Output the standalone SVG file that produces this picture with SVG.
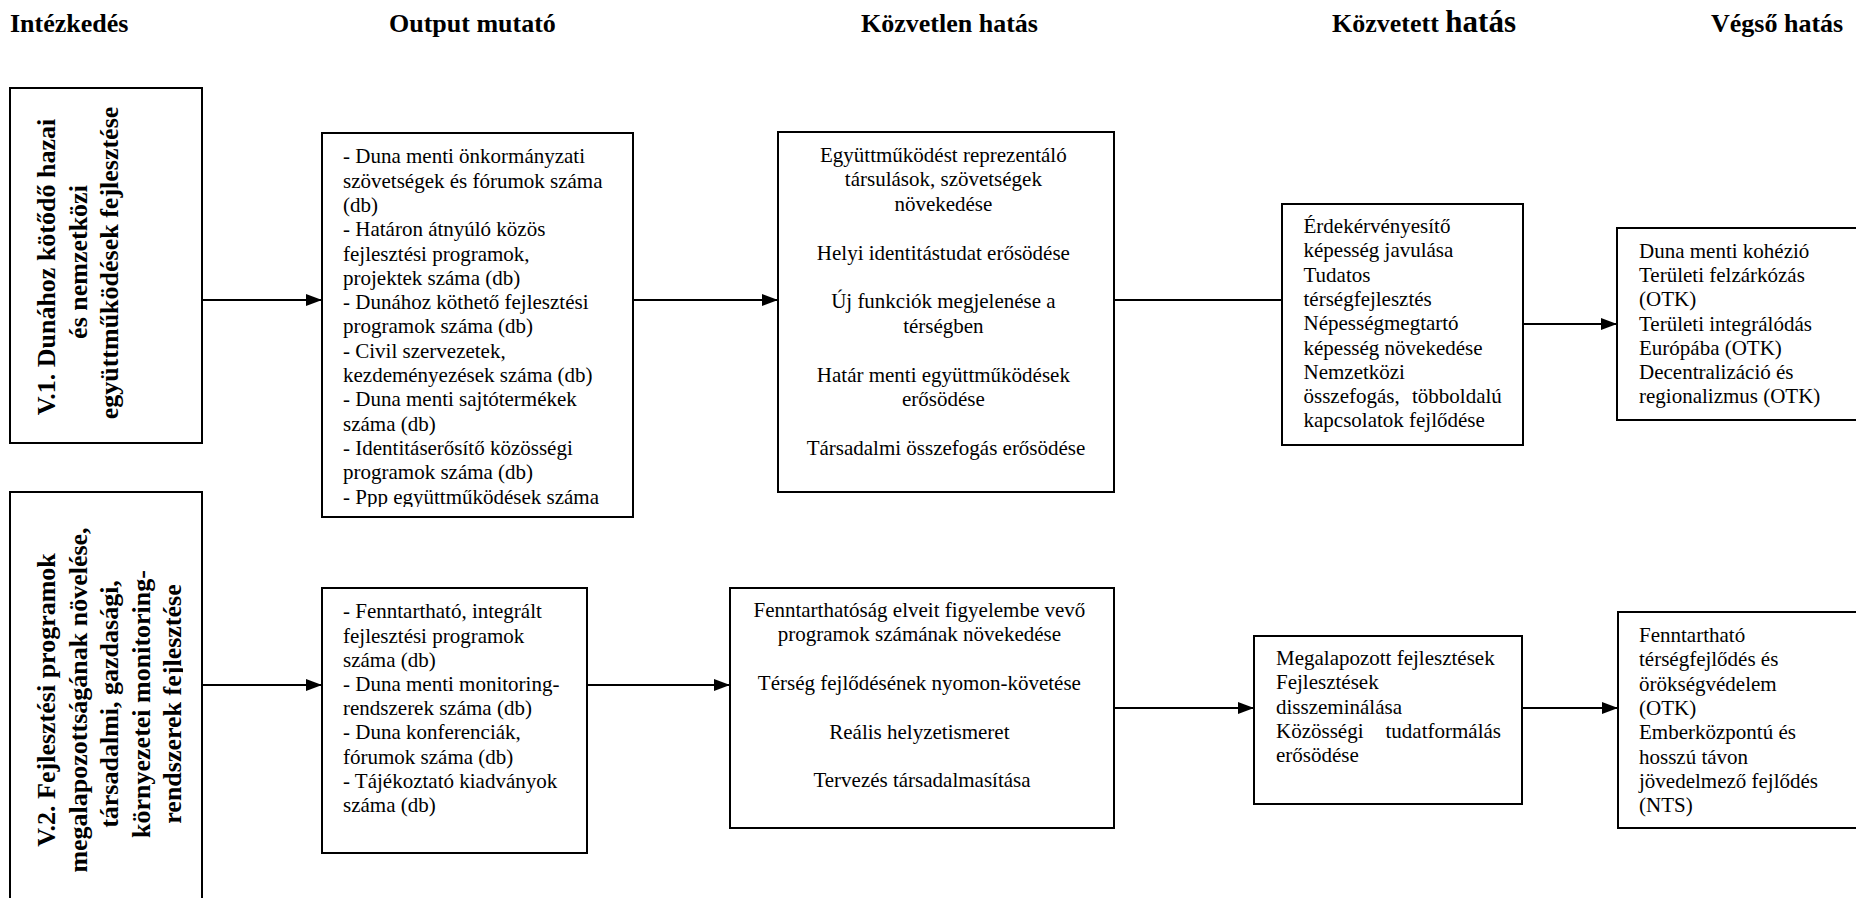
<svg xmlns="http://www.w3.org/2000/svg" width="1856" height="898" viewBox="0 0 1856 898">
<style>
.box{fill:#fff;stroke:#000;stroke-width:2}
.tx{font-family:"Liberation Serif","Times New Roman",serif;font-size:21px;font-weight:normal;fill:#000}
.c{text-anchor:middle}
.h{font-family:"Liberation Serif","Times New Roman",serif;font-size:26px;font-weight:bold;fill:#000}
.v{font-family:"Liberation Serif","Times New Roman",serif;font-size:26px;font-weight:bold;fill:#000;text-anchor:middle}
.conn{stroke:#000;stroke-width:2;fill:none}
</style>
<defs>
<marker id="ah" markerWidth="16" markerHeight="12" refX="16" refY="6" orient="auto" markerUnits="userSpaceOnUse"><path d="M0,0 L16,6 L0,12 z" fill="#000"/></marker>
<clipPath id="clipOut1"><rect x="322" y="133" width="311" height="374"/></clipPath>
<clipPath id="clipV2"><rect x="10" y="492" width="173" height="420"/></clipPath>
</defs>
<rect width="1856" height="898" fill="#fff"/>

<g id="headers">
<text class="h" x="10" y="32">Intézkedés</text>
<text class="h" x="389" y="32">Output mutató</text>
<text class="h" x="861" y="32">Közvetlen hatás</text>
<text class="h" x="1332" y="32">Közvetett <tspan font-size="31">hatás</tspan></text>
<text class="h" x="1711" y="32">Végső hatás</text>
</g>

<g id="connectors">
<line class="conn" x1="202" y1="300" x2="322" y2="300" marker-end="url(#ah)"/>
<line class="conn" x1="633" y1="300" x2="778" y2="300" marker-end="url(#ah)"/>
<line class="conn" x1="1114" y1="300" x2="1282" y2="300"/>
<line class="conn" x1="1523" y1="324" x2="1617" y2="324" marker-end="url(#ah)"/>
<line class="conn" x1="202" y1="685" x2="322" y2="685" marker-end="url(#ah)"/>
<line class="conn" x1="587" y1="685" x2="730" y2="685" marker-end="url(#ah)"/>
<line class="conn" x1="1114" y1="708" x2="1254" y2="708" marker-end="url(#ah)"/>
<line class="conn" x1="1522" y1="708" x2="1618" y2="708" marker-end="url(#ah)"/>
</g>

<g id="v1">
<rect class="box" x="10" y="88" width="192" height="355"/>
<text class="v" transform="translate(55,267) rotate(-90)">V.1. Dunához kötődő hazai</text>
<text class="v" transform="translate(86.5,262) rotate(-90)">és nemzetközi</text>
<text class="v" transform="translate(118,263) rotate(-90)">együttműködések fejlesztése</text>
</g>

<g id="v2">
<rect class="box" x="10" y="492" width="192" height="430"/>
<g clip-path="url(#clipV2)">
<text class="v" transform="translate(55,700) rotate(-90)">V.2. Fejlesztési programok</text>
<text class="v" transform="translate(86.5,700) rotate(-90)">megalapozottságának növelése,</text>
<text class="v" transform="translate(118,704) rotate(-90)">társadalmi, gazdasági,</text>
<text class="v" transform="translate(149.5,704) rotate(-90)">környezetei monitoring-</text>
<text class="v" transform="translate(181,704) rotate(-90)">rendszerek fejlesztése</text>
</g>
</g>

<g id="output1">
<rect class="box" x="322" y="133" width="311" height="384"/>
<text class="tx" clip-path="url(#clipOut1)">
<tspan x="343" y="163.3">- Duna menti önkormányzati</tspan>
<tspan x="343" y="187.6">szövetségek és fórumok száma</tspan>
<tspan x="343" y="211.9">(db)</tspan>
<tspan x="343" y="236.2">- Határon átnyúló közös</tspan>
<tspan x="343" y="260.5">fejlesztési programok,</tspan>
<tspan x="343" y="284.8">projektek száma (db)</tspan>
<tspan x="343" y="309.1">- Dunához köthető fejlesztési</tspan>
<tspan x="343" y="333.4">programok száma (db)</tspan>
<tspan x="343" y="357.7">- Civil szervezetek,</tspan>
<tspan x="343" y="382">kezdeményezések száma (db)</tspan>
<tspan x="343" y="406.3">- Duna menti sajtótermékek</tspan>
<tspan x="343" y="430.6">száma (db)</tspan>
<tspan x="343" y="454.9">- Identitáserősítő közösségi</tspan>
<tspan x="343" y="479.2">programok száma (db)</tspan>
<tspan x="343" y="503.5">- Ppp együttműködések száma</tspan>
</text>
</g>

<g id="kozvetlen1">
<rect class="box" x="778" y="132" width="336" height="360"/>
<text class="tx c">
<tspan x="946" y="162">Együttműködést reprezentáló</tspan>
<tspan x="946" y="186.4">társulások, szövetségek</tspan>
<tspan x="946" y="210.8">növekedése</tspan>
<tspan x="946" y="259.6">Helyi identitástudat erősödése</tspan>
<tspan x="946" y="308.4">Új funkciók megjelenése a</tspan>
<tspan x="946" y="332.8">térségben</tspan>
<tspan x="946" y="381.6">Határ menti együttműködések</tspan>
<tspan x="946" y="406">erősödése</tspan>
<tspan x="946" y="454.8">Társadalmi összefogás erősödése</tspan>
</text>
</g>

<g id="kozvetett1">
<rect class="box" x="1282" y="204" width="241" height="241"/>
<text class="tx">
<tspan x="1303.5" y="233">Érdekérvényesítő</tspan>
<tspan x="1303.5" y="257.3">képesség javulása</tspan>
<tspan x="1303.5" y="281.6">Tudatos</tspan>
<tspan x="1303.5" y="305.9">térségfejlesztés</tspan>
<tspan x="1303.5" y="330.2">Népességmegtartó</tspan>
<tspan x="1303.5" y="354.5">képesség növekedése</tspan>
<tspan x="1303.5" y="378.8">Nemzetközi</tspan>
<tspan x="1303.5" y="403.1">összefogás,</tspan><tspan x="1412" y="403.1">többoldalú</tspan>
<tspan x="1303.5" y="427.4">kapcsolatok fejlődése</tspan>
</text>
</g>

<g id="vegso1">
<rect class="box" x="1617" y="228" width="260" height="192"/>
<text class="tx">
<tspan x="1639" y="258">Duna menti kohézió</tspan>
<tspan x="1639" y="282.2">Területi felzárkózás</tspan>
<tspan x="1639" y="306.4">(OTK)</tspan>
<tspan x="1639" y="330.6">Területi integrálódás</tspan>
<tspan x="1639" y="354.8">Európába (OTK)</tspan>
<tspan x="1639" y="379">Decentralizáció és</tspan>
<tspan x="1639" y="403.2">regionalizmus (OTK)</tspan>
</text>
</g>

<g id="output2">
<rect class="box" x="322" y="588" width="265" height="265"/>
<text class="tx">
<tspan x="343" y="618.3">- Fenntartható, integrált</tspan>
<tspan x="343" y="642.5">fejlesztési programok</tspan>
<tspan x="343" y="666.7">száma (db)</tspan>
<tspan x="343" y="690.9">- Duna menti monitoring-</tspan>
<tspan x="343" y="715.1">rendszerek száma (db)</tspan>
<tspan x="343" y="739.3">- Duna konferenciák,</tspan>
<tspan x="343" y="763.5">fórumok száma (db)</tspan>
<tspan x="343" y="787.7">- Tájékoztató kiadványok</tspan>
<tspan x="343" y="811.9">száma (db)</tspan>
</text>
</g>

<g id="kozvetlen2">
<rect class="box" x="730" y="588" width="384" height="240"/>
<text class="tx c">
<tspan x="922" y="617">Fenntarthatóság elveit figyelembe vevő</tspan>
<tspan x="922" y="641.3">programok számának növekedése</tspan>
<tspan x="922" y="689.9">Térség fejlődésének nyomon-követése</tspan>
<tspan x="922" y="738.5">Reális helyzetismeret</tspan>
<tspan x="922" y="787.1">Tervezés társadalmasítása</tspan>
</text>
</g>

<g id="kozvetett2">
<rect class="box" x="1254" y="636" width="268" height="168"/>
<text class="tx">
<tspan x="1276" y="665">Megalapozott fejlesztések</tspan>
<tspan x="1276" y="689.3">Fejlesztések</tspan>
<tspan x="1276" y="713.6">disszeminálása</tspan>
<tspan x="1276" y="737.9">Közösségi</tspan><tspan x="1385.5" y="737.9">tudatformálás</tspan>
<tspan x="1276" y="762.2">erősödése</tspan>
</text>
</g>

<g id="vegso2">
<rect class="box" x="1618" y="612" width="260" height="216"/>
<text class="tx">
<tspan x="1639" y="642">Fenntartható</tspan>
<tspan x="1639" y="666.3">térségfejlődés és</tspan>
<tspan x="1639" y="690.6">örökségvédelem</tspan>
<tspan x="1639" y="714.9">(OTK)</tspan>
<tspan x="1639" y="739.2">Emberközpontú és</tspan>
<tspan x="1639" y="763.5">hosszú távon</tspan>
<tspan x="1639" y="787.8">jövedelmező fejlődés</tspan>
<tspan x="1639" y="812.1">(NTS)</tspan>
</text>
</g>
</svg>
